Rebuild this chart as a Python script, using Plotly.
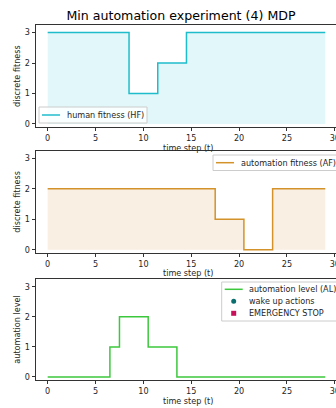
import plotly.graph_objects as go
from plotly.subplots import make_subplots

t = list(range(30))
hf = [3]*9 + [1]*3 + [2]*3 + [3]*15
af = [2]*18 + [1]*3 + [0]*3 + [2]*6
al = [0]*7 + [1] + [2]*3 + [1]*3 + [0]*16
wake_t, wake_v = [], []
estop_t, estop_v = [], []

title = "Min automation experiment (4) MDP"
xticks = [0, 5, 10, 15, 20, 25, 30]
yticks = [0, 1, 2, 3]
FONT = "DejaVu Sans"
FS = 8.1
TXT = "#262626"

C_HF, F_HF = "#1fbccc", "rgba(23,190,207,0.13)"
C_AF, F_AF = "#d4922a", "rgba(215,150,60,0.15)"
C_AL = "#3cc83c"
C_WAKE, C_STOP = "#0a6e6e", "#c8105a"

fig = make_subplots(rows=3, cols=1)

fig.add_trace(go.Scatter(x=t, y=hf, mode="lines", line=dict(shape="hvh", color=C_HF, width=1.5),
                         fill="tozeroy", fillcolor=F_HF, name="human fitness (HF)", showlegend=False), row=1, col=1)
fig.add_trace(go.Scatter(x=t, y=af, mode="lines", line=dict(shape="hvh", color=C_AF, width=1.5),
                         fill="tozeroy", fillcolor=F_AF, name="automation fitness (AF)", showlegend=False), row=2, col=1)
fig.add_trace(go.Scatter(x=t, y=al, mode="lines", line=dict(shape="hvh", color=C_AL, width=1.5),
                         name="automation level (AL)", showlegend=False), row=3, col=1)
fig.add_trace(go.Scatter(x=wake_t, y=wake_v, mode="markers", marker=dict(color=C_WAKE, size=7),
                         name="wake up actions", showlegend=False), row=3, col=1)
fig.add_trace(go.Scatter(x=estop_t, y=estop_v, mode="markers", marker=dict(color=C_STOP, size=7, symbol="square"),
                         name="EMERGENCY STOP", showlegend=False), row=3, col=1)

# figure slightly wider than the 336px window so the right edge is cut like the reference
W, H = 340.0, 408.0
ml, mr, mt, mb = 36, 0, 25, 28
pw, ph = W - ml - mr, H - mt - mb
def px(x): return (x - ml) / pw
def py(y): return (H - mb - y) / ph
def dom(top_px, bot_px):
    return [max(0.0, py(bot_px)), min(1.0, py(top_px))]

doms = [dom(25, 127), dom(150.7, 252.7), dom(279.3, 380)]
ytitles = ["discrete fitness", "discrete fitness", "automation level"]
ann = []
for i in range(3):
    r = i + 1
    fig.update_xaxes(row=r, col=1, range=[-1.22, 30.54], tickvals=xticks,
                     showline=True, mirror=True, linecolor="#333", linewidth=0.9,
                     ticks="outside", ticklen=3.5, tickcolor="#333", showgrid=False, zeroline=False,
                     ticklabeloverflow="allow",
                     tickfont=dict(family=FONT, size=FS, color=TXT))
    fig.update_yaxes(row=r, col=1, range=[-0.1, 3.25], tickvals=yticks, domain=doms[i],
                     showline=True, mirror=False, linecolor="#333", linewidth=0.9,
                     ticks="outside", ticklen=3.5, tickcolor="#333", showgrid=False, zeroline=False,
                     tickfont=dict(family=FONT, size=FS, color=TXT))
    xa = "x" if r == 1 else f"x{r}"
    ya = "y" if r == 1 else f"y{r}"
    ann.append(dict(text="time step (t)", xref="paper", yref=f"{ya} domain", x=px(188), y=0,
                    xanchor="center", yanchor="middle", yshift=-20.5, showarrow=False,
                    font=dict(family=FONT, size=FS, color=TXT)))
    ann.append(dict(text=ytitles[i], xref=f"{xa} domain", yref=f"{ya} domain", x=0, y=0.5,
                    xanchor="center", yanchor="middle", xshift=-19, textangle=-90, showarrow=False,
                    font=dict(family=FONT, size=FS, color=TXT)))

shapes = []
def legend(x0, y0, x1, y1, items):
    shapes.append(dict(type="rect", xref="paper", yref="paper", x0=px(x0), x1=px(x1), y0=py(y1), y1=py(y0),
                       line=dict(color="#cccccc", width=1), fillcolor="rgba(255,255,255,0.8)", layer="above"))
    for kind, color, label, yc in items:
        if kind == "line":
            shapes.append(dict(type="line", xref="paper", yref="paper", x0=px(x0 + 3), x1=px(x0 + 21),
                               y0=py(yc), y1=py(yc), line=dict(color=color, width=1.5), layer="above"))
        elif kind == "circle":
            shapes.append(dict(type="circle", xref="paper", yref="paper", x0=px(x0 + 9.5), x1=px(x0 + 14.5),
                               y0=py(yc + 2.5), y1=py(yc - 2.5), line=dict(width=0), fillcolor=color, layer="above"))
        else:
            shapes.append(dict(type="rect", xref="paper", yref="paper", x0=px(x0 + 9.5), x1=px(x0 + 14.5),
                               y0=py(yc + 2.5), y1=py(yc - 2.5), line=dict(width=0), fillcolor=color, layer="above"))
        ann.append(dict(text=label, xref="paper", yref="paper", x=px(x0 + 25.5), y=py(yc),
                        xanchor="left", yanchor="middle", showarrow=False,
                        font=dict(family=FONT, size=FS, color=TXT)))

legend(39, 107, 147, 123, [("line", C_HF, "human fitness (HF)", 115)])
legend(213, 155, 345, 170.5, [("line", C_AF, "automation fitness (AF)", 162.7)])
legend(221.7, 282, 345, 321, [("line", C_AL, "automation level (AL)", 289.3),
                              ("circle", C_WAKE, "wake up actions", 301.3),
                              ("square", C_STOP, "EMERGENCY STOP", 313.3)])

fig.update_layout(
    width=W, height=H,
    margin=dict(l=ml, r=mr, t=mt, b=mb),
    plot_bgcolor="white", paper_bgcolor="white",
    showlegend=False,
    title=dict(text=title, x=181 / W, xanchor="center", y=1 - 16 / H, yanchor="middle",
               font=dict(family=FONT, size=12.6, color="black")),
    annotations=ann, shapes=shapes,
)

fig.write_html("out.html")
